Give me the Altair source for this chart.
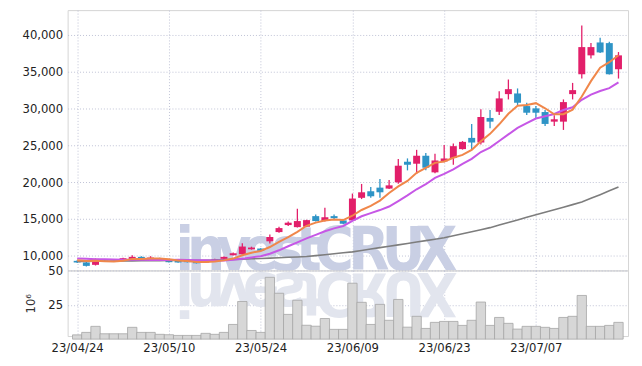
import json
import altair as alt
import pandas as pd

# ---------------- data ----------------
dates = ["23/04/24", "23/04/25", "23/04/26", "23/04/27", "23/04/28", "23/05/02", "23/05/03", "23/05/04",
         "23/05/08", "23/05/09", "23/05/10", "23/05/11", "23/05/12", "23/05/15", "23/05/16", "23/05/17",
         "23/05/18", "23/05/19", "23/05/22", "23/05/23", "23/05/24", "23/05/25", "23/05/26", "23/05/30",
         "23/05/31", "23/06/01", "23/06/02", "23/06/05", "23/06/07", "23/06/08", "23/06/09", "23/06/12",
         "23/06/13", "23/06/14", "23/06/15", "23/06/16", "23/06/19", "23/06/20", "23/06/21", "23/06/22",
         "23/06/23", "23/06/26", "23/06/27", "23/06/28", "23/06/29", "23/06/30", "23/07/03", "23/07/04",
         "23/07/05", "23/07/06", "23/07/07", "23/07/10", "23/07/11", "23/07/12", "23/07/13", "23/07/14",
         "23/07/17", "23/07/18", "23/07/19", "23/07/20"]

opens = [9330, 9110, 8790, 9510, 9510, 9420, 9400, 9870, 9400, 9690,
         9420, 9420, 9330, 9420, 9110, 9380, 9600, 10090, 10230, 10900,
         11000, 11980, 13230, 14180, 13900, 13960, 15390, 14720, 15390, 14810,
         14810, 17870, 18760, 19250, 19120, 19970, 22760, 22490, 23570, 21320,
         22800, 23260, 24470, 25990, 25360, 28690, 29530, 31920, 32010, 30300,
         29990, 29490, 28190, 28190, 31920, 34610, 37170, 38920, 38830, 35290]
highs = [9400, 9200, 9650, 9560, 9560, 9750, 10100, 9950, 9960, 9750,
         9470, 9460, 9380, 9460, 9420, 9600, 9920, 10450, 11710, 11250,
         11050, 12900, 13950, 14650, 16390, 14900, 15600, 16520, 15600, 14900,
         18450, 19750, 19350, 20430, 20300, 23120, 23210, 24370, 23930, 23840,
         25010, 25240, 25560, 27880, 29860, 29760, 32320, 33900, 32690, 30750,
         30300, 29760, 29040, 31200, 33440, 41210, 38830, 39550, 39000, 37620]
lows = [9050, 8560, 8700, 9330, 9380, 9380, 9330, 9460, 9330, 9380,
        9110, 9060, 9110, 8970, 9060, 9330, 9550, 10050, 10180, 10850,
        10650, 11680, 13150, 14050, 13850, 13900, 14650, 14650, 14870, 14300,
        14750, 17700, 17870, 17870, 19050, 19790, 21590, 21100, 21590, 21200,
        22700, 22350, 24400, 24370, 25100, 27300, 29090, 31200, 30440, 29090,
        28640, 27610, 27610, 27070, 31200, 34030, 36730, 37480, 34570, 34030]
closes = [9110, 8650, 9600, 9400, 9420, 9690, 9870, 9500, 9780, 9420,
          9150, 9110, 9150, 9020, 9380, 9550, 9870, 10360, 11270, 11130,
          10700, 12560, 13770, 14500, 14720, 14850, 14720, 15250, 15120, 14360,
          17770, 18620, 18080, 18620, 19560, 22220, 22350, 23570, 21950, 22930,
          23200, 24870, 25450, 25360, 28820, 28190, 31340, 32590, 30750, 29400,
          29400, 27880, 28510, 30840, 32460, 38290, 38290, 37570, 34610, 37170]
volumes = [3.1, 4.9, 9.3, 3.9, 3.9, 3.9, 8.6, 4.9, 4.9, 3.5,
           3.2, 2.7, 2.7, 2.7, 4.2, 3.5, 4.9, 10.7, 27.4, 6.3,
           4.9, 45.0, 33.4, 18.0, 28.3, 10.1, 9.4, 15.0, 7.1, 7.1,
           40.7, 26.8, 10.7, 25.3, 13.7, 28.9, 8.7, 16.6, 7.8, 12.2,
           12.9, 12.9, 10.0, 13.7, 27.0, 10.0, 15.8, 11.5, 7.3, 9.3,
           9.3, 8.6, 7.8, 15.8, 16.6, 31.8, 9.3, 9.3, 10.0, 12.2]
# long (60-day) average line
ma60 = [9250, 9262, 9274, 9286, 9298, 9310, 9322, 9334, 9346, 9358,
        9370, 9382, 9394, 9406, 9420, 9455, 9490, 9530, 9570, 9610,
        9650, 9700, 9750, 9810, 9860, 9920, 10040, 10160, 10290, 10420,
        10550, 10740, 10930, 11120, 11310, 11500, 11690, 11880, 12070, 12260,
        12450, 12720, 13000, 13270, 13550, 13830, 14180, 14530, 14880, 15230,
        15580, 15920, 16260, 16600, 16950, 17300, 17800, 18300, 18820, 19350]
# first points of the short averages (window starts before the chart)
ma5_head = [9400, 9320, 9330, 9280]
ma10_head = [9650, 9600, 9560, 9540, 9510, 9490, 9480, 9470, 9450]

tick_idx = [0, 10, 20, 30, 40, 50]
price_ticks = [10000, 15000, 20000, 25000, 30000, 35000, 40000]
vol_ticks = [25, 50]
watermark = "investCRUX"
watermark_mirror = ["i", "n", "v", "ɘ", "ƨ", "t", "Ɔ", "Я", "U", "X"]
wm_em = [0.278, 0.611, 0.556, 0.556, 0.556, 0.333, 0.722, 0.722, 0.722, 0.667]

# ---------------- styling ----------------
W, H_TOP, H_BOT = 564, 262, 66
PINK, BLUE = "#e21f6a", "#2e94c6"
ORANGE, PURPLE, GRAY = "#f0874a", "#c657e6", "#7d7d7d"
GRID = "#bfc3d6"
FONT = "'DejaVu Sans Condensed', 'DejaVu Sans', sans-serif"
WM_FONT = "'Liberation Sans Narrow', 'DejaVu Sans Condensed', 'Liberation Sans', sans-serif"
WM_SIZE = 60

n = len(dates)
df = pd.DataFrame({"i": list(range(n)), "date": dates, "open": opens, "high": highs,
                   "low": lows, "close": closes, "vol": volumes, "ma60": ma60})
df["dir"] = ["up" if c >= o else "down" for o, c in zip(opens, closes)]
ma5 = pd.Series(closes).rolling(5).mean().tolist()
ma5[:len(ma5_head)] = ma5_head
ma10 = pd.Series(closes).rolling(10).mean().tolist()
ma10[:len(ma10_head)] = ma10_head
df["ma5"] = ma5
df["ma10"] = ma10

# watermark letter positions (pixels -> x data units)
px = 108.0
cx = []
for w in wm_em:
    wpx = w * 0.82 * WM_SIZE
    cx.append(px + wpx / 2)
    px += wpx
to_x = lambda p: -0.5 + p * n / W
wm_df = pd.DataFrame({"wx": [to_x(p) for p in cx], "ch": list(watermark), "mch": watermark_mirror})

x_scale = alt.Scale(domain=[-0.5, n - 0.5], nice=False, zero=False)
xu_axis = alt.Axis(values=tick_idx, labels=False, ticks=False, domain=False, title=None, grid=True)
yu_scale = alt.Scale(domain=[8030, 43300], nice=False, zero=False)
yu_axis = alt.Axis(values=price_ticks, format=",d", title=None, domain=False, ticks=False,
                   labelPadding=5, grid=True)
color = alt.Color("dir:N", scale=alt.Scale(domain=["up", "down"], range=[PINK, BLUE]), legend=None)

xu = alt.X("i:Q", scale=x_scale, axis=xu_axis)

wm_main = alt.Chart(wm_df).mark_text(
    align="center", baseline="alphabetic", font=WM_FONT, fontSize=WM_SIZE, fontWeight="bold",
    color="#c9cfe4"
).encode(x=alt.X("wx:Q", scale=x_scale, axis=xu_axis), y=alt.value(H_TOP), text="ch:N")

wick = alt.Chart(df).mark_rule(strokeWidth=1.3).encode(
    x=xu, y=alt.Y("low:Q", scale=yu_scale, axis=yu_axis), y2="high:Q", color=color)
body = alt.Chart(df).mark_bar(size=7, orient="vertical").encode(
    x=xu, y=alt.Y("open:Q", scale=yu_scale, axis=yu_axis), y2="close:Q", color=color)
l60 = alt.Chart(df).mark_line(color=GRAY, strokeWidth=1.6).encode(
    x=xu, y=alt.Y("ma60:Q", scale=yu_scale, axis=yu_axis))
l10 = alt.Chart(df).mark_line(color=PURPLE, strokeWidth=2).encode(
    x=xu, y=alt.Y("ma10:Q", scale=yu_scale, axis=yu_axis))
l5 = alt.Chart(df).mark_line(color=ORANGE, strokeWidth=2).encode(
    x=xu, y=alt.Y("ma5:Q", scale=yu_scale, axis=yu_axis))

upper = alt.layer(wm_main, wick, body, l60, l10, l5).properties(width=W, height=H_TOP)

label_expr = json.dumps(dates) + "[datum.value]"
xl_axis = alt.Axis(values=tick_idx, labelExpr=label_expr, ticks=False, domain=False, title=None,
                   grid=True, labelPadding=6, labelFlush=False)
yl_scale = alt.Scale(domain=[2.25, 50], nice=False, zero=False)
yl_axis = alt.Axis(values=vol_ticks, title="10⁶", domain=False, ticks=False, labelPadding=5,
                   titlePadding=10, titleFont=FONT, titleFontSize=13, titleFontWeight="normal",
                   titleColor="#333333", grid=True)

wm_reflect = alt.Chart(wm_df).mark_text(
    align="center", baseline="alphabetic", font=WM_FONT, fontSize=WM_SIZE, fontWeight="bold",
    color="#e2e5ee", angle=180
).encode(x=alt.X("wx:Q", scale=x_scale, axis=xl_axis), y=alt.value(3), text="mch:N")

vol = alt.Chart(df).mark_bar(size=9.4, orient="vertical", fill="#d7d7d7", stroke="#a6a6a6",
                             strokeWidth=0.8).encode(
    x=alt.X("i:Q", scale=x_scale, axis=xl_axis),
    y=alt.Y("vol:Q", scale=yl_scale, axis=yl_axis),
    y2=alt.value(H_BOT))

lower = alt.layer(wm_reflect, vol).properties(width=W, height=H_BOT)

chart = alt.vconcat(upper, lower, spacing=0, bounds="flush").resolve_scale(
    x="independent", y="independent", color="independent"
).properties(
    padding={"left": 13, "top": 0, "right": 5, "bottom": 5}
).configure_view(stroke="#d5d5d5").configure_axis(
    labelFont=FONT, labelFontSize=13, labelColor="#222222",
    gridColor=GRID, gridDash=[1, 2], gridWidth=1
)

chart.save("out.html", embed_options={"renderer": "svg", "actions": False})
